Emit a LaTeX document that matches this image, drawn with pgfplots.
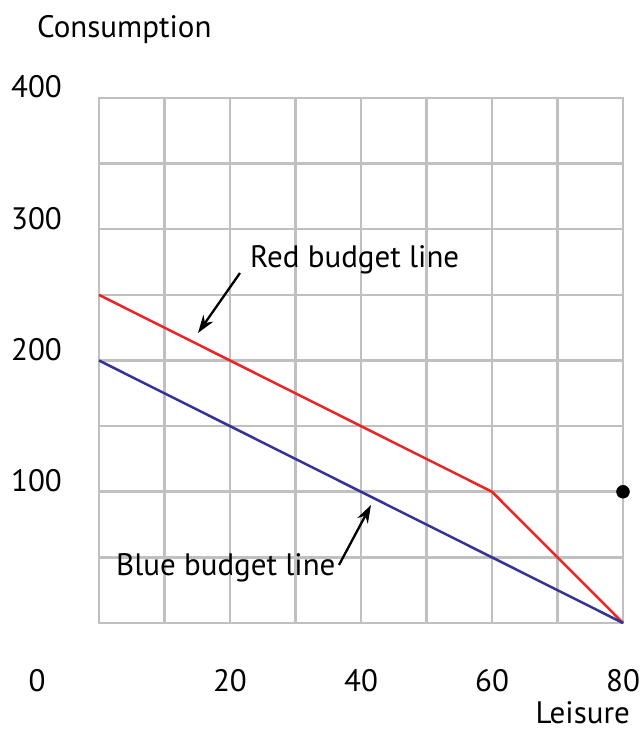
\documentclass[border=0pt]{standalone}
\usepackage{fontspec}
\setmainfont{PT Sans}
\usepackage{pgfplots}
\pgfplotsset{compat=1.18}
\usetikzlibrary{arrows.meta}
\definecolor{gridc}{RGB}{192,192,192}
\definecolor{redl}{RGB}{238,36,36}
\definecolor{bluel}{RGB}{52,52,150}
\begin{document}
\begin{tikzpicture}[lbl/.style={inner sep=0pt, font=\fontsize{31}{36}\selectfont}]
\path[use as bounding box] (-99pt,-109pt) rectangle (543pt,623pt);
\begin{axis}[at={(0pt,0pt)}, anchor=south west, scale only axis,
  width=524pt, height=525pt,
  xmin=0, xmax=80, ymin=0, ymax=400,
  xtick={0,10,...,80}, ytick={0,50,...,400},
  xticklabels={}, yticklabels={},
  major tick length=0pt,
  grid=major,
  major grid style={gridc, line width=2.5pt},
  axis line style={gridc, line width=2.5pt},
  clip=false]
\addplot[redl, line width=2.5pt] coordinates {(0,250) (60,100) (80,0)};
\addplot[bluel, line width=2.5pt] coordinates {(0,200) (80,0)};
\addplot[only marks, mark=*, mark size=6.5pt, black] coordinates {(80,100)};
\end{axis}
\node[lbl, anchor=base west] at (-62pt,585pt) {Consumption};
\node[lbl, anchor=base east] at (-37pt,525pt) {400};
\node[lbl, anchor=base east] at (-37pt,393.75pt) {300};
\node[lbl, anchor=base east] at (-37pt,262.5pt) {200};
\node[lbl, anchor=base east] at (-37pt,131.25pt) {100};
\node[lbl, anchor=base] at (-62pt,-68pt) {0};
\node[lbl, anchor=base] at (131pt,-68pt) {20};
\node[lbl, anchor=base] at (262pt,-68pt) {40};
\node[lbl, anchor=base] at (393pt,-68pt) {60};
\node[lbl, anchor=base] at (524pt,-68pt) {80};
\node[lbl, anchor=base east] at (531pt,-100pt) {Leisure};
\node[lbl, anchor=base west] at (151pt,355pt) {Red budget line};
\node[lbl, anchor=base west] at (17pt,48pt) {Blue budget line};
\draw[line width=2.3pt, -{Stealth[length=18pt,width=12pt]}] (240pt,58pt) -- (272pt,118pt);
\draw[line width=2.3pt, -{Stealth[length=18pt,width=12pt]}] (141pt,350pt) -- (99pt,290pt);
\end{tikzpicture}
\end{document}
